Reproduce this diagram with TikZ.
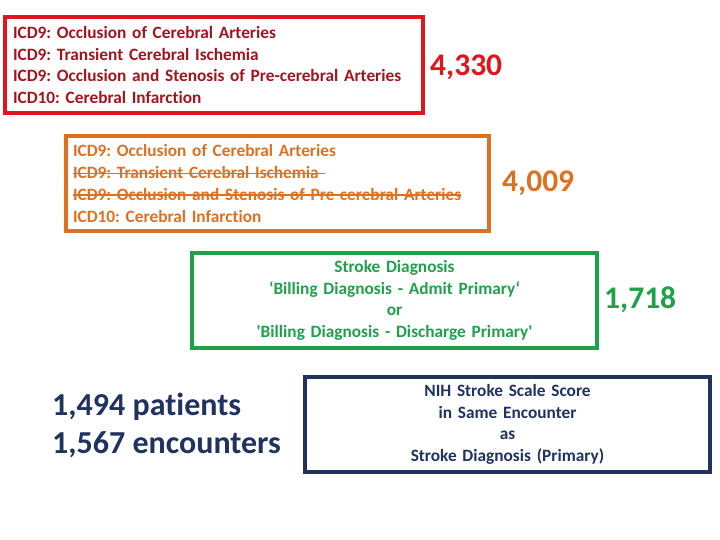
\documentclass[tikz,border=0pt]{standalone}
\usepackage{fontspec}
\setmainfont{Carlito}[RawFeature={-liga}]
\frenchspacing
\newsavebox\strkbox
\newcommand\mystrike[1]{\leavevmode\sbox\strkbox{#1}\rlap{\raisebox{0.27em}{\rule{\wd\strkbox}{1.3pt}}}\usebox\strkbox}
\definecolor{cred}{HTML}{E3141B}
\definecolor{cdred}{HTML}{A3141D}
\definecolor{corange}{HTML}{DE7020}
\definecolor{cgreen}{HTML}{1FA04A}
\definecolor{cnavy}{HTML}{1F3260}
\begin{document}
\begin{tikzpicture}[x=1pt,y=1pt,
  boxa/.style={draw, line width=3.5pt, inner sep=0pt, font=\bfseries\fontsize{17.3}{21.7}\selectfont},
  bignum/.style={font=\bfseries\fontsize{31.5}{34}\selectfont, inner sep=0pt}]
\useasboundingbox (0,0) rectangle (720,-540);
\node[boxa, draw=cred, text=cdred, minimum width=418, minimum height=96, text width=402, align=left] (red) at (214,-65)
 {ICD9: Occlusion of Cerebral Arteries\\ICD9: Transient Cerebral Ischemia\\ICD9: Occlusion and Stenosis of Pre-cerebral Arteries\\ICD10: Cerebral Infarction};
\node[bignum, text=cred, anchor=west] (n1) at (430,-67) {4,330};
\node[boxa, draw=corange, text=corange, minimum width=423, minimum height=95, text width=409, align=left] (orange) at (277.5,-183.5)
 {ICD9: Occlusion of Cerebral Arteries\\\mystrike{ICD9: Transient Cerebral Ischemia }\\\mystrike{ICD9: Occlusion and Stenosis of Pre-cerebral Arteries}\\ICD10: Cerebral Infarction};
\node[bignum, text=corange, anchor=west] (n2) at (502,-183) {4,009};
\node[boxa, draw=cgreen, text=cgreen, minimum width=405, minimum height=95, text width=395, align=center] (green) at (394.5,-300.5)
 {Stroke Diagnosis\\‘Billing Diagnosis - Admit Primary‘\\or\\\textquotesingle Billing Diagnosis - Discharge Primary\textquotesingle};
\node[bignum, text=cgreen, anchor=west] (n3) at (604,-300) {1,718};
\node[boxa, draw=cnavy, text=cnavy, minimum width=405, minimum height=95, text width=395, align=center] (navy) at (507.5,-424.5)
 {NIH Stroke Scale Score\\in Same Encounter\\as\\Stroke Diagnosis (Primary)};
\node[text=cnavy, font=\bfseries\fontsize{32}{38}\selectfont, align=left, anchor=west, inner sep=0pt] (tot) at (52,-425)
 {1,494 patients\\1,567 encounters};
\end{tikzpicture}
\end{document}
